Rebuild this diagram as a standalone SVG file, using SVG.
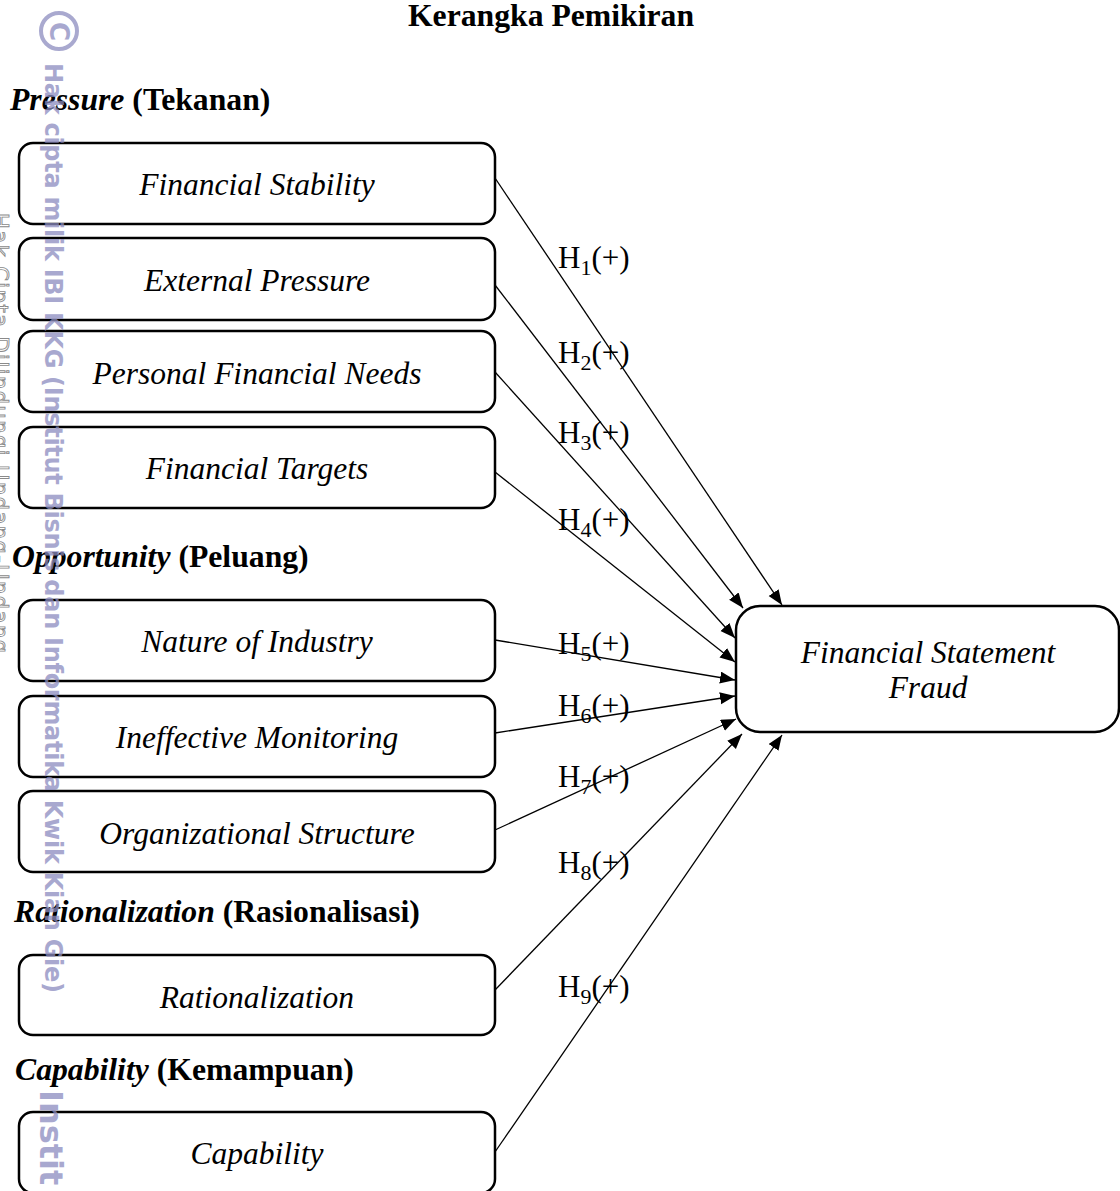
<svg xmlns="http://www.w3.org/2000/svg" width="1120" height="1191" viewBox="0 0 1120 1191">
<defs>
<style>
.box{fill:#fff;stroke:#000;stroke-width:2.5}
.lbl{font-family:"Liberation Serif","Times New Roman",serif;font-style:italic;font-size:31.5px;fill:#000;text-anchor:middle}
.head{font-family:"Liberation Serif","Times New Roman",serif;font-weight:bold;font-size:31.7px;fill:#000}
.hyp{font-family:"Liberation Serif","Times New Roman",serif;font-size:31px;fill:#000}
.sub{font-size:22px}
.edge{stroke:#000;stroke-width:1.3;fill:none;marker-end:url(#ah)}
.wm{font-family:"DejaVu Sans",sans-serif;font-weight:bold;fill:#8c8cbf;opacity:0.75}
</style>
<marker id="ah" markerUnits="userSpaceOnUse" markerWidth="16" markerHeight="13" refX="15" refY="6" orient="auto">
<path d="M0,0 L15,6 L0,12 z" fill="#000"/>
</marker>
</defs>
<rect width="1120" height="1191" fill="#fff"/>

<text class="head" x="551" y="26" text-anchor="middle">Kerangka Pemikiran</text>

<text class="head" x="10" y="110"><tspan font-style="italic">Pressure</tspan> (Tekanan)</text>
<text class="head" x="12" y="567"><tspan font-style="italic">Opportunity</tspan> (Peluang)</text>
<text class="head" x="14" y="922"><tspan font-style="italic">Rationalization</tspan> (Rasionalisasi)</text>
<text class="head" x="15" y="1080"><tspan font-style="italic">Capability</tspan> (Kemampuan)</text>

<g id="n1"><rect class="box" x="19" y="143" width="476" height="81" rx="14"/><text class="lbl" x="257" y="195">Financial Stability</text></g>
<g id="n2"><rect class="box" x="19" y="238" width="476" height="82" rx="14"/><text class="lbl" x="257" y="291">External Pressure</text></g>
<g id="n3"><rect class="box" x="19" y="331" width="476" height="81" rx="14"/><text class="lbl" x="257" y="384">Personal Financial Needs</text></g>
<g id="n4"><rect class="box" x="19" y="427" width="476" height="81" rx="14"/><text class="lbl" x="257" y="479">Financial Targets</text></g>
<g id="n5"><rect class="box" x="19" y="600" width="476" height="81" rx="14"/><text class="lbl" x="257" y="652">Nature of Industry</text></g>
<g id="n6"><rect class="box" x="19" y="696" width="476" height="81" rx="14"/><text class="lbl" x="257" y="748">Ineffective Monitoring</text></g>
<g id="n7"><rect class="box" x="19" y="791" width="476" height="81" rx="14"/><text class="lbl" x="257" y="844">Organizational Structure</text></g>
<g id="n8"><rect class="box" x="19" y="955" width="476" height="80" rx="14"/><text class="lbl" x="257" y="1008">Rationalization</text></g>
<g id="n9"><rect class="box" x="19" y="1112" width="476" height="81" rx="14"/><text class="lbl" x="257" y="1164">Capability</text></g>

<g id="target"><rect class="box" x="736" y="606" width="383" height="126" rx="24"/>
<text class="lbl" x="928" y="663">Financial Statement</text>
<text class="lbl" x="928" y="698">Fraud</text></g>

<g id="connectors">
<line class="edge" x1="495" y1="178" x2="782" y2="605"/>
<line class="edge" x1="495" y1="285" x2="743" y2="608"/>
<line class="edge" x1="495" y1="372" x2="735" y2="638"/>
<line class="edge" x1="495" y1="472" x2="735" y2="662"/>
<line class="edge" x1="495" y1="640" x2="735" y2="680"/>
<line class="edge" x1="495" y1="733" x2="735" y2="696"/>
<line class="edge" x1="495" y1="830" x2="736" y2="719"/>
<line class="edge" x1="495" y1="990" x2="742" y2="734"/>
<line class="edge" x1="495" y1="1152" x2="782" y2="735"/>
</g>

<g id="labels">
<text class="hyp" x="558" y="268">H<tspan class="sub" dy="7">1</tspan><tspan dy="-7">(+)</tspan></text>
<text class="hyp" x="558" y="363">H<tspan class="sub" dy="7">2</tspan><tspan dy="-7">(+)</tspan></text>
<text class="hyp" x="558" y="443">H<tspan class="sub" dy="7">3</tspan><tspan dy="-7">(+)</tspan></text>
<text class="hyp" x="558" y="530">H<tspan class="sub" dy="7">4</tspan><tspan dy="-7">(+)</tspan></text>
<text class="hyp" x="558" y="654">H<tspan class="sub" dy="7">5</tspan><tspan dy="-7">(+)</tspan></text>
<text class="hyp" x="558" y="716">H<tspan class="sub" dy="7">6</tspan><tspan dy="-7">(+)</tspan></text>
<text class="hyp" x="558" y="787">H<tspan class="sub" dy="7">7</tspan><tspan dy="-7">(+)</tspan></text>
<text class="hyp" x="558" y="873">H<tspan class="sub" dy="7">8</tspan><tspan dy="-7">(+)</tspan></text>
<text class="hyp" x="558" y="997">H<tspan class="sub" dy="7">9</tspan><tspan dy="-7">(+)</tspan></text>
</g>

<g id="watermark">
<circle cx="59" cy="31" r="18" fill="none" stroke="#8c8cbf" stroke-width="4" opacity="0.75"/>
<text class="wm" font-size="26" transform="translate(50,22) rotate(90)">C</text>
<text class="wm" font-size="24" textLength="930" lengthAdjust="spacing" transform="translate(45,63) rotate(90)">Hak cipta milik IBI KKG (Institut Bisnis dan Informatika Kwik Kian Gie)</text>
<text font-family="DejaVu Sans,sans-serif" font-size="21" fill="none" stroke="#8a8a8a" stroke-width="0.9" textLength="440" lengthAdjust="spacing" transform="translate(-7,213) rotate(90)">Hak Cipta Dilindungi Undang-Undang</text>
<text class="wm" font-size="32" transform="translate(40,1090) rotate(90)">Instit</text>
</g>
</svg>
